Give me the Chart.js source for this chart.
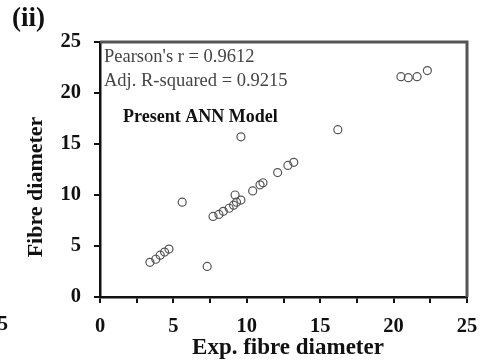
<!DOCTYPE html>
<html>
<head>
<meta charset="utf-8">
<script src="https://cdn.jsdelivr.net/npm/chart.js@4/dist/chart.umd.min.js"></script>
<style>
  body { margin: 0; background: #fff; }
  canvas { display: block; }
</style>
</head>
<body>
<canvas id="annChart" width="480" height="362"></canvas>
<script>
var expDiameter = [3.4, 3.8, 4.1, 4.4, 4.7, 5.6, 7.3, 7.7, 8.1, 8.4, 8.8, 9.1, 9.3, 9.2, 9.6, 9.6,
  10.4, 10.9, 11.1, 12.1, 12.8, 13.2, 16.2, 20.5, 21.0, 21.6, 22.3];
var annDiameter = [3.4, 3.7, 4.1, 4.4, 4.7, 9.3, 3.0, 7.9, 8.1, 8.4, 8.7, 9.0, 9.3, 10.0, 9.5, 15.7,
  10.4, 11.0, 11.2, 12.2, 12.9, 13.2, 16.4, 21.6, 21.5, 21.6, 22.2];
var xTicks = [0, 5, 10, 15, 20, 25];
var yTicks = [0, 5, 10, 15, 20, 25];
var statLines = ["Pearson's r = 0.9612", "Adj. R-squared = 0.9215"];
var modelLabel = "Present ANN Model";
var panelLabel = "(ii)";
var xTitle = "Exp. fibre diameter";
var yTitle = "Fibre diameter";

var points = expDiameter.map(function (x, i) {
  return { x: x, y: annDiameter[i] };
});

var serif = "'Liberation Serif', 'DejaVu Serif', serif";

// frame on top/right, axis titles and loose text on the figure
var extras = {
  id: "extras",
  afterDraw: function (chart) {
    var ctx = chart.ctx, a = chart.chartArea;
    ctx.save();
    ctx.strokeStyle = "#555";
    ctx.lineWidth = 3;
    ctx.beginPath();
    ctx.moveTo(a.left, a.top);
    ctx.lineTo(a.right, a.top);
    ctx.lineTo(a.right, a.bottom);
    ctx.stroke();

    ctx.fillStyle = "#444";
    ctx.font = "18.5px " + serif;
    ctx.textBaseline = "middle";
    ctx.textAlign = "left";
    ctx.fillText(statLines[0], a.left + 4, a.top + 15);
    ctx.fillText(statLines[1], a.left + 4, a.top + 39);

    ctx.fillStyle = "#111";
    ctx.font = "bold 18px " + serif;
    ctx.fillText(modelLabel, a.left + 23, a.top + 75);

    ctx.font = "bold 27px " + serif;
    ctx.fillText(panelLabel, 12, 19);

    // edge of the neighbouring panel's axis
    ctx.font = "bold 20px " + serif;
    ctx.textAlign = "center";
    ctx.fillText("5", 3, 325);

    ctx.font = "bold 23px " + serif;
    ctx.fillText(xTitle, 288, 348);

    ctx.translate(36, 187);
    ctx.rotate(-Math.PI / 2);
    ctx.font = "bold 22px " + serif;
    ctx.fillText(yTitle, 0, 0);
    ctx.restore();
  }
};

new Chart(document.getElementById("annChart"), {
  type: "scatter",
  data: {
    datasets: [{
      data: points,
      pointStyle: "circle",
      pointRadius: 4,
      pointBorderWidth: 1.2,
      borderColor: "#555",
      backgroundColor: "rgba(0,0,0,0)"
    }]
  },
  options: {
    responsive: false,
    animation: false,
    layout: { padding: { top: 42, right: 13, left: 0, bottom: 0 } },
    plugins: { legend: { display: false }, tooltip: { enabled: false } },
    scales: {
      x: {
        min: 0, max: 25,
        afterFit: function (s) {
          s.height = 65;
          s.paddingLeft = 0;
          s.paddingRight = 0;
        },
        afterBuildTicks: function (s) {
          s.ticks = [0, 2.5, 5, 7.5, 10, 12.5, 15, 17.5, 20, 22.5, 25].map(function (v) { return { value: v }; });
        },
        ticks: {
          color: "#111",
          padding: 11,
          maxRotation: 0,
          font: { family: serif, size: 20.5, weight: "bold" },
          callback: function (v) { return xTicks.indexOf(v) >= 0 ? v : ""; }
        },
        grid: { drawOnChartArea: false, drawTicks: true, tickLength: 6, color: "#111", lineWidth: 2 },
        border: { color: "#111", width: 2.5 }
      },
      y: {
        min: 0, max: 25,
        afterFit: function (s) {
          s.width = 100;
          s.paddingTop = 0;
          s.paddingBottom = 0;
        },
        afterBuildTicks: function (s) {
          s.ticks = yTicks.map(function (v) { return { value: v }; });
        },
        ticks: {
          color: "#111",
          padding: 13,
          font: { family: serif, size: 20.5, weight: "bold" }
        },
        grid: { drawOnChartArea: false, drawTicks: true, tickLength: 6, color: "#111", lineWidth: 2 },
        border: { color: "#111", width: 2.5 }
      }
    }
  },
  plugins: [extras]
});
</script>
</body>
</html>
